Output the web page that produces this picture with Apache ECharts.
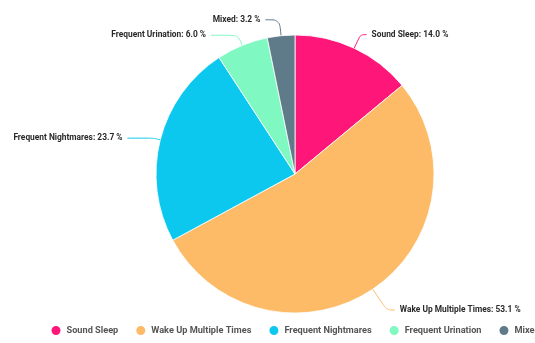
<!DOCTYPE html>
<html><head><meta charset="utf-8">
<script src="https://cdn.jsdelivr.net/npm/echarts@6/dist/echarts.min.js"></script>
<style>html,body{margin:0;padding:0;background:#fff}#c{width:535px;height:343px}</style>
</head><body><div id="c"></div>
<script>
const categories = ['Sound Sleep', 'Wake Up Multiple Times', 'Frequent Nightmares', 'Frequent Urination', 'Mixed'];
const values = [14.0, 53.1, 23.7, 6.0, 3.2];
const colors = ['#fe1679', '#fdbb68', '#0cc8ef', '#80f8c2', '#5f7a89'];

// label-line styling per slice (visual only)
const lineStyleByName = {
  'Sound Sleep': {length: 15, length2: 6},
  'Wake Up Multiple Times': {length: 25, length2: 8},
  'Frequent Nightmares': {length: 7, length2: 26},
  'Frequent Urination': {length: 11, length2: 27},
  'Mixed': {length: 16, length2: 14}
};

const chart = echarts.init(document.getElementById('c'), null, {renderer: 'canvas'});
chart.setOption({
  animation: false,
  color: colors,
  textStyle: {fontFamily: 'Roboto'},
  legend: {
    data: categories,
    bottom: 1,
    left: 44.5,
    width: 900,
    icon: 'circle',
    itemWidth: 11,
    itemHeight: 11,
    itemGap: 16,
    textStyle: {fontFamily: 'Roboto', fontSize: 9.2, fontWeight: 'bold', color: '#555'}
  },
  series: [{
    type: 'pie',
    center: [295, 174],
    radius: 139,
    startAngle: 90,
    clockwise: true,
    data: categories.map((n, i) => ({
      name: n,
      value: values[i],
      labelLine: lineStyleByName[n]
    })),
    itemStyle: {borderColor: '#fff', borderWidth: 0.8},
    label: {
      show: true,
      formatter: p => p.name + ': ' + p.percent.toFixed(1) + ' %',
      fontFamily: 'Roboto',
      fontSize: 8.4,
      fontWeight: 'bold',
      color: '#2a2a2a'
    },
    labelLine: {show: true, smooth: true, lineStyle: {width: 1}}
  }]
});
</script></body></html>
